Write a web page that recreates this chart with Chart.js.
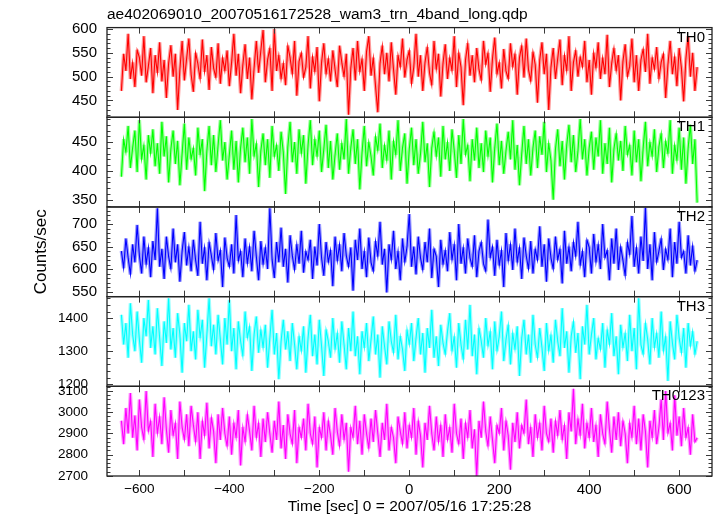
<!DOCTYPE html>
<html>
<head>
<meta charset="utf-8">
<title>ae402069010 wam3 trn 4band light curve</title>
<script src="https://cdn.jsdelivr.net/npm/chart.js@4.4.1/dist/chart.umd.min.js"></script>
<style>
  html, body { margin: 0; padding: 0; background: #fff; }
  #lc { display: block; }
</style>
</head>
<body>
<canvas id="lc" width="717" height="516"></canvas>
<script>
// bin times, sec from 2007/05/16 17:25:28 (5 s bins)
const times = [
  -640, -635, -630, -625, -620, -615, -610, -605, -600, -595, -590, -585, -580, -575, -570, -565,
  -560, -555, -550, -545, -540, -535, -530, -525, -520, -515, -510, -505, -500, -495, -490, -485,
  -480, -475, -470, -465, -460, -455, -450, -445, -440, -435, -430, -425, -420, -415, -410, -405,
  -400, -395, -390, -385, -380, -375, -370, -365, -360, -355, -350, -345, -340, -335, -330, -325,
  -320, -315, -310, -305, -300, -295, -290, -285, -280, -275, -270, -265, -260, -255, -250, -245,
  -240, -235, -230, -225, -220, -215, -210, -205, -200, -195, -190, -185, -180, -175, -170, -165,
  -160, -155, -150, -145, -140, -135, -130, -125, -120, -115, -110, -105, -100, -95, -90, -85,
  -80, -75, -70, -65, -60, -55, -50, -45, -40, -35, -30, -25, -20, -15, -10, -5,
  0, 5, 10, 15, 20, 25, 30, 35, 40, 45, 50, 55, 60, 65, 70, 75,
  80, 85, 90, 95, 100, 105, 110, 115, 120, 125, 130, 135, 140, 145, 150, 155,
  160, 165, 170, 175, 180, 185, 190, 195, 200, 205, 210, 215, 220, 225, 230, 235,
  240, 245, 250, 255, 260, 265, 270, 275, 280, 285, 290, 295, 300, 305, 310, 315,
  320, 325, 330, 335, 340, 345, 350, 355, 360, 365, 370, 375, 380, 385, 390, 395,
  400, 405, 410, 415, 420, 425, 430, 435, 440, 445, 450, 455, 460, 465, 470, 475,
  480, 485, 490, 495, 500, 505, 510, 515, 520, 525, 530, 535, 540, 545, 550, 555,
  560, 565, 570, 575, 580, 585, 590, 595, 600, 605, 610, 615, 620, 625, 630, 635,
  640
];

// count rates per band (counts/sec)
const th0 = [
  470, 548, 512, 590, 495, 530, 478, 556, 540, 502, 585, 488, 522, 560, 465, 545,
  508, 572, 490, 535, 455, 528, 566, 500, 548, 430, 515, 575, 492, 538, 580, 505,
  468, 550, 527, 495, 578, 510, 545, 472, 562, 518, 498, 570, 485, 540, 512, 555,
  480, 530, 590, 502, 548, 465, 525, 568, 495, 540, 452, 518, 575, 508, 555, 598,
  488, 535, 560, 470, 600, 512, 545, 495, 528, 482, 565, 540, 505, 575, 460, 532,
  550, 498, 520, 585, 475, 542, 510, 562, 448, 530, 570, 505, 538, 490, 555, 515,
  478, 565, 530, 500, 548, 420, 518, 560, 492, 575, 510, 538, 470, 552, 585, 502,
  540, 480, 425, 528, 565, 505, 550, 490, 572, 515, 462, 545, 520, 580, 498, 535,
  555, 485, 520, 590, 500, 545, 470, 530, 562, 508, 482, 575, 515, 548, 458, 528,
  568, 495, 540, 512, 585, 478, 550, 520, 440, 535, 570, 502, 545, 488, 560, 515,
  492, 575, 525, 550, 468, 538, 582, 505, 530, 475, 558, 512, 495, 570, 520, 548,
  462, 540, 565, 498, 580, 515, 490, 552, 525, 445, 535, 572, 505, 548, 430, 520,
  560, 495, 538, 578, 482, 545, 512, 585, 470, 530, 555, 500, 542, 520, 575, 488,
  535, 462, 550, 518, 572, 495, 540, 505, 588, 478, 528, 560, 512, 545, 450, 532,
  568, 500, 522, 580, 488, 545, 470, 535, 558, 510, 590, 485, 540, 515, 562, 495,
  530, 548, 455, 525, 575, 505, 542, 480, 560, 518, 448, 538, 585, 500, 550, 470,
  520
];
const th1 = [
  390, 455, 432, 478, 405, 440, 470, 398, 488, 420, 445, 385, 462, 430, 472, 408,
  448, 395, 485, 425, 460, 380, 438, 470, 412, 452, 375, 430, 482, 402, 458, 420,
  440, 392, 475, 428, 455, 365, 435, 478, 410, 462, 398, 445, 488, 418, 450, 385,
  428, 470, 402, 452, 380, 440, 475, 415, 458, 395, 490, 425, 448, 372, 435, 465,
  410, 455, 388, 478, 425, 445, 400, 468, 432, 360, 442, 485, 415, 450, 395, 472,
  430, 462, 378, 445, 488, 410, 455, 425, 470, 398, 438, 480, 405, 452, 385, 428,
  465, 402, 448, 420, 490, 395, 440, 472, 412, 455, 368, 432, 478, 408, 450, 425,
  392, 460, 435, 482, 405, 445, 418, 470, 385, 452, 428, 488, 400, 440, 465, 378,
  438, 475, 410, 455, 395, 430, 485, 415, 448, 372, 440, 468, 425, 458, 390, 478,
  420, 450, 400, 472, 435, 388, 462, 412, 490, 428, 445, 382, 455, 418, 475, 405,
  448, 398, 470, 425, 458, 380, 440, 482, 410, 452, 395, 435, 468, 420, 488, 402,
  445, 375, 430, 478, 412, 455, 392, 440, 470, 405, 460, 428, 485, 398, 448, 418,
  350, 438, 472, 408, 452, 385, 445, 480, 415, 462, 398, 435, 490, 420, 455, 392,
  440, 468, 402, 458, 425, 488, 395, 448, 412, 475, 380, 438, 465, 418, 452, 400,
  478, 428, 445, 392, 470, 415, 455, 382, 440, 485, 408, 450, 425, 472, 398, 442,
  465, 405, 452, 430, 488, 395, 445, 418, 475, 402, 458, 378, 440, 480, 412, 455,
  345
];
const th2 = [
  640, 602, 668, 625, 588, 655, 615, 698, 630, 590, 672, 610, 648, 582, 662, 620,
  735, 605, 645, 578, 672, 628, 600, 690, 615, 655, 572, 640, 682, 608, 650, 595,
  665, 620, 585, 705, 612, 648, 575, 660, 630, 598, 680, 618, 642, 560, 670, 625,
  605, 655, 590, 720, 618, 640, 582, 668, 612, 650, 595, 685, 628, 575, 662, 610,
  648, 600, 735, 622, 580, 660, 615, 692, 605, 645, 570, 675, 630, 598, 655, 612,
  685, 592, 640, 620, 665, 578, 650, 608, 700, 625, 585, 660, 615, 642, 562, 672,
  618, 655, 595, 680, 630, 605, 648, 552, 665, 620, 690, 600, 640, 582, 670, 615,
  595, 662, 628, 705, 610, 645, 548, 655, 620, 685, 600, 640, 575, 668, 615, 650,
  722, 605, 650, 588, 672, 625, 598, 660, 615, 690, 580, 645, 628, 560, 665, 610,
  642, 595, 682, 620, 655, 575, 700, 612, 648, 590, 668, 625, 605, 675, 582, 640,
  660, 612, 595, 710, 625, 650, 585, 665, 608, 642, 560, 680, 618, 655, 598, 690,
  615, 648, 578, 670, 630, 600, 662, 590, 645, 620, 695, 605, 655, 572, 668, 625,
  600, 672, 620, 645, 568, 685, 612, 650, 595, 660, 628, 705, 608, 640, 582, 665,
  648, 590, 678, 615, 655, 600, 700, 625, 642, 575, 668, 612, 690, 598, 650, 620,
  585, 660, 632, 718, 605, 648, 590, 672, 618, 736, 600, 655, 575, 682, 615, 640,
  668, 598, 645, 620, 690, 582, 660, 612, 705, 625, 640, 590, 675, 608, 652, 595,
  620
];
const th3 = [
  1410, 1320, 1385, 1280, 1445, 1350, 1300, 1420, 1335, 1265, 1400, 1345, 1455, 1310, 1375, 1290,
  1430, 1340, 1255, 1390, 1325, 1460, 1305, 1370, 1280, 1415, 1350, 1235, 1385, 1330, 1440, 1300,
  1360, 1275, 1425, 1340, 1395, 1250, 1350, 1460, 1315, 1380, 1290, 1410, 1335, 1260, 1400, 1320,
  1455, 1300, 1370, 1245, 1390, 1330, 1285, 1420, 1340, 1375, 1240, 1350, 1405, 1295, 1365, 1310,
  1380, 1250, 1340, 1425, 1290, 1355, 1215, 1330, 1395, 1305, 1360, 1270, 1385, 1320, 1245, 1345,
  1300, 1375, 1235, 1340, 1410, 1285, 1350, 1260, 1395, 1315, 1225, 1365, 1330, 1280, 1400, 1305,
  1355, 1265, 1390, 1320, 1245, 1370, 1300, 1420, 1285, 1345, 1230, 1360, 1310, 1385, 1270, 1335,
  1405, 1290, 1350, 1220, 1375, 1315, 1260, 1390, 1330, 1295, 1410, 1275, 1345, 1305, 1240, 1365,
  1320, 1385, 1270, 1340, 1400, 1290, 1355, 1235, 1370, 1310, 1425, 1280, 1345, 1255, 1380, 1325,
  1290, 1360, 1415, 1300, 1345, 1250, 1385, 1320, 1275, 1395, 1305, 1440, 1285, 1350, 1230, 1370,
  1330, 1280, 1400, 1315, 1360, 1245, 1390, 1300, 1345, 1420, 1270, 1335, 1380, 1260, 1355, 1305,
  1375, 1225, 1340, 1395, 1290, 1350, 1265, 1410, 1320, 1280, 1370, 1310, 1240, 1385, 1300, 1350,
  1265, 1395, 1330, 1285, 1430, 1310, 1360, 1235, 1345, 1390, 1295, 1355, 1215, 1375, 1320, 1440,
  1290, 1350, 1400, 1275, 1340, 1305, 1385, 1250, 1365, 1320, 1415, 1285, 1345, 1230, 1380, 1310,
  1355, 1270, 1410, 1300, 1370, 1245, 1460, 1320, 1290, 1385, 1335, 1260, 1400, 1310, 1355, 1280,
  1420, 1300, 1345, 1210, 1390, 1325, 1275, 1410, 1340, 1295, 1370, 1250, 1385, 1315, 1360, 1290,
  1330
];
const th0123 = [
  2960, 2850, 3020, 2900, 3090, 2880, 2985, 2820, 3060, 2930, 2870, 3100, 2910, 2960, 2790, 3040,
  2900, 2980, 2850, 3070, 2920, 2810, 3010, 2890, 2950, 2780, 3050, 2930, 2870, 2990, 2840, 3030,
  2940, 2860, 3000, 2780, 2960, 2890, 3045, 2830, 2975, 2910, 2760, 2990, 2870, 3020, 2900, 2840,
  2980, 2800, 2950, 2880, 3010, 2750, 2930, 2860, 2990, 2910, 2820, 3030, 2880, 2950, 2790, 2970,
  2860, 3000, 2900, 2810, 2960, 2870, 3050, 2830, 2940, 2780, 2990, 2900, 2850, 3010, 2760, 2930,
  2880, 2970, 2820, 3040, 2900, 2850, 2980, 2740, 2930, 2880, 3000, 2820, 2960, 2890, 2800, 3020,
  2910, 2840, 2990, 2870, 2950, 2720, 2930, 2880, 3030, 2850, 2960, 2800, 2990, 2900, 2830, 2970,
  2860, 3010, 2900, 2790, 2950, 2870, 3040, 2820, 2930, 2880, 2760, 2980, 2910, 2850, 3000, 2830,
  2940, 2880, 3020, 2800, 2960, 2890, 2740, 2950, 2870, 3030, 2900, 2820, 2980, 2860, 2940, 2790,
  2990, 2870, 2930, 2810, 3040, 2900, 2850, 2970, 2780, 2950, 2880, 3010, 2830, 2920, 2700, 2960,
  2880, 3050, 2910, 2840, 2980, 2870, 2760, 2940, 2900, 3020, 2820, 2960, 2890, 2730, 2950, 2860,
  3000, 2830, 2940, 2900, 3060, 2850, 2930, 2790, 2990, 2880, 2950, 2820, 3030, 2900, 2860, 2970,
  2810, 2960, 2890, 3010, 2870, 2940, 2780, 3000, 2910, 3110, 2850, 2970, 2890, 3040, 2830, 2950,
  2880, 3020, 2860, 2940, 2790, 2990, 2900, 2850, 3050, 2920, 2810, 2980, 2870, 3000, 2840, 2960,
  2900, 2760, 2950, 2880, 3030, 2850, 2970, 2820, 2990, 2910, 2740, 2960, 2880, 3010, 2850, 2930,
  3060, 2870, 3100, 2900, 2950, 2820, 3080, 2890, 2980, 2840, 3020, 2880, 2930, 2800, 2990, 2860,
  2880
];

// tick labels
const xTicks = [-600, -400, -200, 0, 200, 400, 600];
const th0Ticks = [450, 500, 550, 600];
const th1Ticks = [350, 400, 450];
const th2Ticks = [550, 600, 650, 700];
const th3Ticks = [1200, 1300, 1400];
const th0123Ticks = [2700, 2800, 2900, 3000, 3100];
const xMarks = [-600, -500, -400, -300, -200, -100, 0, 100, 200, 300, 400, 500, 600];

// panels, top to bottom
const panels = [
  { name: 'TH0',    values: th0,    ticks: th0Ticks,    min: 414.5,  max: 603,  major: 50,  minor: 10, pad: 10, color: '#ff0000', haze: 'rgba(255,0,0,0.4)' },
  { name: 'TH1',    values: th1,    ticks: th1Ticks,    min: 337.5,  max: 493,  major: 50,  minor: 10, pad: 10, color: '#00ff00', haze: 'rgba(0,255,0,0.4)' },
  { name: 'TH2',    values: th2,    ticks: th2Ticks,    min: 538.7,  max: 738,  major: 50,  minor: 10, pad: 10, color: '#0000ff', haze: 'rgba(0,0,255,0.4)' },
  { name: 'TH3',    values: th3,    ticks: th3Ticks,    min: 1193.6, max: 1465, major: 100, minor: 20, pad: 19, color: '#00ffff', haze: 'rgba(0,255,255,0.4)' },
  { name: 'TH0123', values: th0123, ticks: th0123Ticks, min: 2700,   max: 3122, major: 100, minor: 20, pad: 19, color: '#ff00ff', haze: 'rgba(255,0,255,0.4)' }
];

const FONT = "'Liberation Sans', Arial, Helvetica, sans-serif";
Chart.defaults.font.family = FONT;
Chart.defaults.font.size = 15;
Chart.defaults.color = '#000';

const label = v => String(v).replace('-', '\u2212');
// QDP squeezes the longer labels into about the same width
const tickFont = c => ({ size: c.tick && label(c.tick.value).length >= 4 ? 13.5 : 15 });

const scales = {
  x: {
    type: 'linear',
    position: 'bottom',
    min: -672,
    max: 673,
    grid: { display: false, drawTicks: false },
    border: { display: false },
    afterBuildTicks: s => { s.ticks = xTicks.map(v => ({ value: v })); },
    afterFit: s => { s.height = 40; },
    ticks: { autoSkip: false, maxRotation: 0, padding: 5, font: tickFont, callback: v => label(v) },
    title: { display: true, text: 'Time [sec] 0 = 2007/05/16 17:25:28', font: { size: 15.5 }, padding: 0 }
  }
};
// last declared left axis is stacked on top, so declare the bottom panel first
panels.slice().reverse().forEach((p, j) => {
  const k = panels.length - 1 - j;
  scales['y' + k] = {
    type: 'linear',
    position: 'left',
    stack: 'lc',
    stackWeight: 1,
    weight: j,
    min: p.min,
    max: p.max,
    grid: { display: false, drawTicks: false },
    border: { display: false },
    afterBuildTicks: s => { s.ticks = p.ticks.map(v => ({ value: v })); },
    afterFit: s => { s.width = 107; },
    ticks: { autoSkip: false, padding: p.pad, font: tickFont, callback: v => label(v) },
    title: k === 2 ? { display: true, text: 'Counts/sec', font: { size: 17 }, padding: { top: 31 } } : { display: false }
  };
});

// QDP style frames, inward ticks and band names
const qdpFrames = {
  id: 'qdpFrames',
  afterDraw(chart) {
    const ctx = chart.ctx;
    const xs = chart.scales.x;
    const area = chart.chartArea;
    const seg = (x1, y1, x2, y2) => { ctx.beginPath(); ctx.moveTo(x1, y1); ctx.lineTo(x2, y2); ctx.stroke(); };
    ctx.save();
    panels.forEach((p, k) => {
      const ys = chart.scales['y' + k];
      ctx.strokeStyle = '#3a3a3a';
      ctx.lineWidth = 1;
      xMarks.forEach(v => {
        const px = Math.round(xs.getPixelForValue(v)) + 0.5;
        seg(px, ys.top, px, ys.top + 6);
        seg(px, ys.bottom, px, ys.bottom - 6);
      });
      for (let v = Math.ceil(ys.min / p.minor) * p.minor; v <= ys.max; v += p.minor) {
        const py = Math.round(ys.getPixelForValue(v)) + 0.5;
        const len = v % p.major === 0 ? 6 : 3.5;
        seg(area.left, py, area.left + len, py);
        seg(area.right, py, area.right - len, py);
      }
      ctx.strokeStyle = '#222';
      ctx.lineWidth = 1.3;
      ctx.strokeRect(area.left, ys.top, area.right - area.left, ys.bottom - ys.top);
      ctx.fillStyle = '#000';
      ctx.font = '15px ' + FONT;
      ctx.textAlign = 'right';
      ctx.textBaseline = 'middle';
      ctx.fillText(p.name, area.right - 7, ys.top + 10);
    });
    ctx.restore();
  }
};

// each band: a light wide stroke (like the error bars) under the thin rate line
const datasets = [];
panels.forEach((p, k) => {
  const pts = times.map((t, i) => ({ x: t, y: p.values[i] }));
  datasets.push({ label: p.name + ' err', yAxisID: 'y' + k, data: pts, borderColor: p.haze, borderWidth: 3.5, borderJoinStyle: 'bevel', pointRadius: 0, tension: 0, fill: false });
  datasets.push({ label: p.name, yAxisID: 'y' + k, data: pts, borderColor: p.color, borderWidth: 1.1, pointRadius: 0, tension: 0, fill: false });
});

new Chart(document.getElementById('lc'), {
  type: 'line',
  data: { datasets: datasets },
  options: {
    responsive: false,
    animation: false,
    devicePixelRatio: 1,
    layout: { padding: { left: 0, right: 5, top: 0, bottom: 0 } },
    scales: scales,
    plugins: {
      legend: { display: false },
      tooltip: { enabled: false },
      title: {
        display: true,
        fullSize: false,
        align: 'start',
        text: 'ae402069010_20070516172528_wam3_trn_4band_long.qdp',
        font: { size: 15.5, weight: 'normal' },
        color: '#000',
        padding: { top: 5, bottom: 4 }
      }
    }
  },
  plugins: [qdpFrames]
});
</script>
</body>
</html>
